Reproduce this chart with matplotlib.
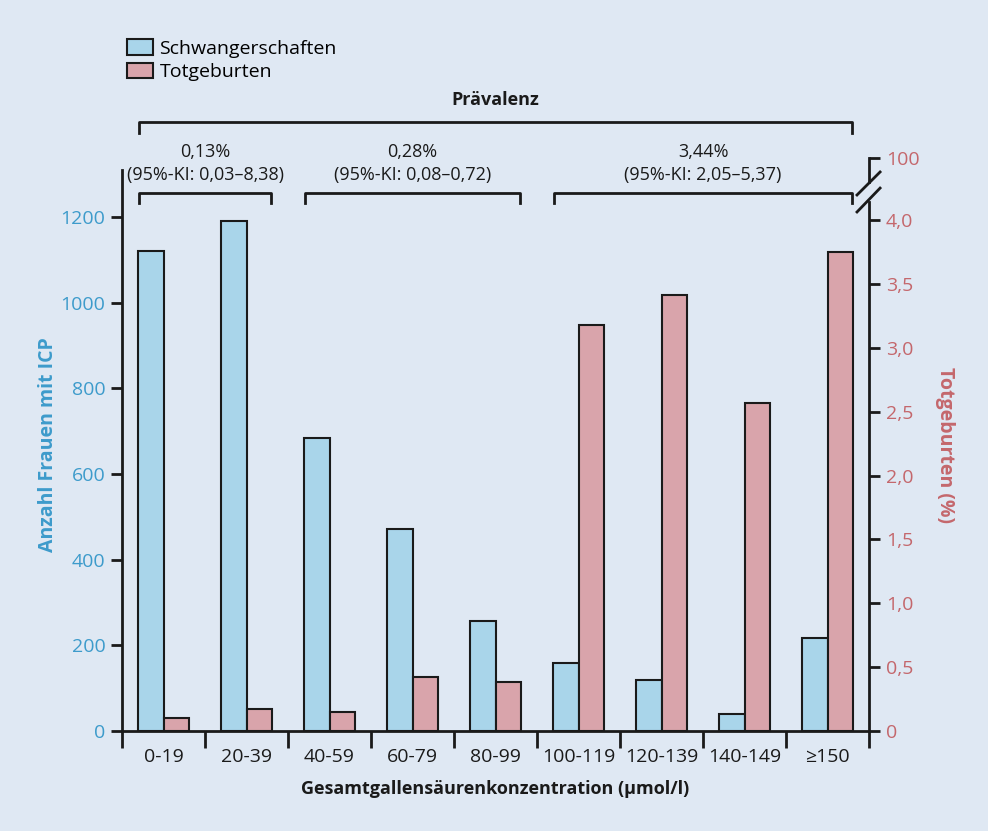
import numpy as np
import matplotlib.pyplot as plt
from matplotlib.patches import Patch

plt.rcParams.update({'font.family': ['Open Sans', 'DejaVu Sans'], 'figure.dpi': 100})

# Daten
kategorien = ['0-19', '20-39', '40-59', '60-79', '80-99', '100-119', '120-139', '140-149', '≥150']
schwangerschaften = [1120, 1190, 685, 472, 258, 160, 120, 40, 217]
totgeburten = [0.10, 0.17, 0.15, 0.42, 0.38, 3.18, 3.41, 2.57, 3.75]
links_ticks = [0, 200, 400, 600, 800, 1000, 1200]
rechts_ticks = [0, 0.5, 1.0, 1.5, 2.0, 2.5, 3.0, 3.5, 4.0]
rechts_labels = ['0', '0,5', '1,0', '1,5', '2,0', '2,5', '3,0', '3,5', '4,0']
# Prävalenz-Gruppen: (erste Kategorie, letzte Kategorie, Wert, KI)
gruppen = [(0, 1, '0,13%', '(95%-KI: 0,03–8,38)'),
           (2, 4, '0,28%', '(95%-KI: 0,08–0,72)'),
           (5, 8, '3,44%', '(95%-KI: 2,05–5,37)')]

bg = '#dfe8f3'
blau = '#a9d5ea'
rot = '#d9a4ab'
blau_text = '#3d9bcb'
rot_text = '#c4676c'
schwarz = '#1a1a1a'

fig = plt.figure(figsize=(9.88, 8.31), facecolor=bg)
ax = fig.add_axes([0.1235, 0.1203, 0.7561, 0.6895])
ax.set_facecolor(bg)
ax2 = ax.twinx()

x = np.arange(len(kategorien))
breite = 0.31
ax.bar(x + 0.19, schwangerschaften, width=breite, align='edge', color=blau,
       edgecolor=schwarz, linewidth=1.5, zorder=3)
ax2.bar(x + 0.19 + breite, totgeburten, width=breite, align='edge', color=rot,
        edgecolor=schwarz, linewidth=1.5, zorder=3)

ax.set_xlim(0, len(kategorien))
ax.set_ylim(0, 1338)
ax2.set_ylim(0, 4.485)

ax.spines['top'].set_visible(False)
ax2.spines['top'].set_visible(False)
ax2.spines['left'].set_visible(False)
ax2.spines['bottom'].set_visible(False)
ax.spines['right'].set_visible(False)
for s in list(ax.spines.values()) + list(ax2.spines.values()):
    s.set_linewidth(2)
    s.set_color(schwarz)
ax.spines['left'].set_bounds(0, 1310)
ax2.spines['right'].set_bounds(0, 4.14)

# x-Achse
ax.set_xticks(np.arange(len(kategorien) + 1))
ax.set_xticklabels([])
ax.set_xticks(x + 0.5, minor=True)
ax.set_xticklabels(kategorien, minor=True, fontsize=14, color=schwarz)
ax.tick_params(axis='x', which='major', length=12, width=2, color=schwarz)
ax.tick_params(axis='x', which='minor', length=0, pad=12)

ax.set_yticks(links_ticks)
ax.set_yticklabels([str(v) for v in links_ticks], fontsize=14, color=blau_text)
ax.tick_params(axis='y', length=8, width=2, color=schwarz, pad=4)

ax2.set_yticks(rechts_ticks + [4.485])
ax2.set_yticklabels(rechts_labels + ['100'], fontsize=14, color=rot_text)
ax2.tick_params(axis='y', length=8, width=2, color=schwarz, pad=4)

# oberes Stück der rechten Achse und Achsenbruch
ax2.plot([9, 9], [4.30, 4.485], color=schwarz, lw=2, clip_on=False, zorder=5)
for y0, y1 in [(4.196, 4.376), (4.063, 4.25)]:
    ax2.plot([8.855, 9.133], [y0, y1], color=schwarz, lw=2, clip_on=False, zorder=5)

ax.set_xlabel('Gesamtgallensäurenkonzentration (µmol/l)', fontsize=13,
              fontweight='bold', color=schwarz, labelpad=10)
ax.set_ylabel('Anzahl Frauen mit ICP', fontsize=14, fontweight='bold',
              color=blau_text, labelpad=2)
ax2.set_ylabel('Totgeburten (%)', fontsize=14, fontweight='bold',
               color=rot_text, rotation=270, labelpad=26)

# Klammern
for a, b, wert, ki in gruppen:
    x0, x1 = a + 0.2, b + 0.8
    ax.plot([x0, x0, x1, x1], [1233, 1256, 1256, 1233], color=schwarz, lw=2,
            clip_on=False, zorder=5)
    ax.text((x0 + x1) / 2, 1352, wert, ha='center', va='center', fontsize=13,
            color=schwarz)
    ax.text((x0 + x1) / 2, 1298, ki, ha='center', va='center', fontsize=13,
            color=schwarz)

ax.plot([0.2, 0.2, 8.8, 8.8], [1396, 1422, 1422, 1396], color=schwarz, lw=2,
        clip_on=False, zorder=5)
ax.text(4.5, 1473, 'Prävalenz', ha='center', va='center', fontsize=13,
        fontweight='bold', color=schwarz)

# Legende
handles = [Patch(facecolor=blau, edgecolor=schwarz, linewidth=1.5, label='Schwangerschaften'),
           Patch(facecolor=rot, edgecolor=schwarz, linewidth=1.5, label='Totgeburten')]
fig.legend(handles=handles, loc='upper left', bbox_to_anchor=(0.121, 0.962),
           frameon=False, fontsize=14, handlelength=1.3, handleheight=0.85,
           handletextpad=0.35, labelspacing=0.25, borderaxespad=0)

fig.savefig('out.png', dpi=100, facecolor=bg)
